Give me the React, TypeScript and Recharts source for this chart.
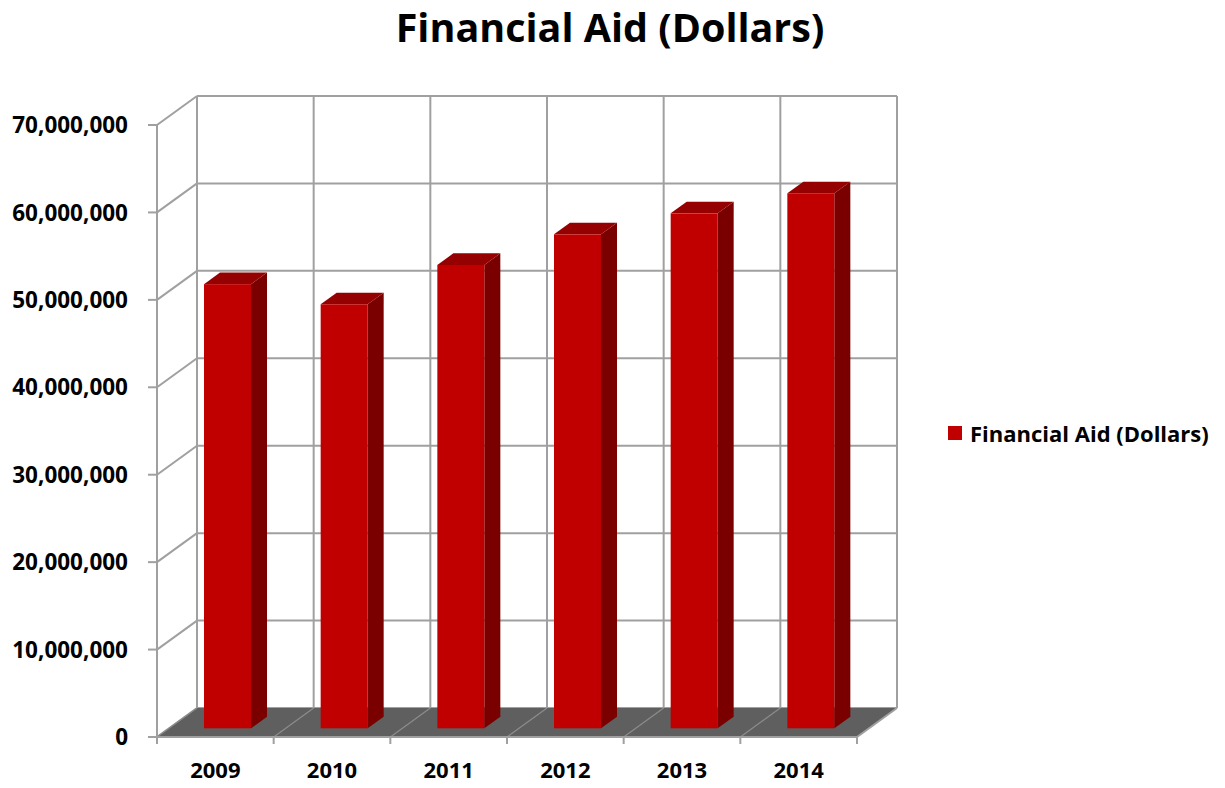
import { BarChart, Bar, XAxis, YAxis, Legend, Customized, CartesianGrid } from 'recharts'

const YEARS = ['2009', '2010', '2011', '2012', '2013', '2014']
const AID = [50800000, 48500000, 53000000, 56500000, 58900000, 61200000]
const Y_TICKS = [0, 10000000, 20000000, 30000000, 40000000, 50000000, 60000000, 70000000]
const TITLE = 'Financial Aid (Dollars)'
const SERIES = 'Financial Aid (Dollars)'

const data = YEARS.map((year, i) => ({ year, aid: AID[i] }))

// front plane of the box + offset of the back wall
const W = 1225
const H = 788
const LEFT = 157
const TOP = 125
const RIGHT = 857
const BOTTOM = 737
const DX = 40
const DY = -29
const BAND = (RIGHT - LEFT) / YEARS.length
const GRID = '#a0a0a0'
const FLOOR = '#5f5f5f'
const FONT = '"Open Sans", sans-serif'

const fmt = (v: number) => v.toLocaleString('en-US')

// side wall diagonal + back wall line for each value tick
function WallLine(p: any) {
  const y = p.y1
  return (
    <g key={`h${p.index}`}>
      <line x1={LEFT} y1={y} x2={LEFT + DX} y2={y + DY} stroke={GRID} strokeWidth={2} />
      <line x1={LEFT + DX} y1={y + DY} x2={RIGHT + DX} y2={y + DY} stroke={GRID} strokeWidth={2} />
    </g>
  )
}

// back wall verticals + floor piece for each category (grid also hands us the plot edges, skip those)
function FloorPiece(p: any) {
  const x = p.x1
  if (x < LEFT + BAND / 4 || x > RIGHT - BAND / 4) return <g key={`v${p.index}`} />
  const l = x - BAND / 2
  const r = x + BAND / 2
  const last = r > RIGHT - 2
  return (
    <g key={`v${p.index}`}>
      <line x1={l + DX} y1={TOP + DY} x2={l + DX} y2={BOTTOM + DY} stroke={GRID} strokeWidth={2} />
      {last && <line x1={r + DX} y1={TOP + DY} x2={r + DX} y2={BOTTOM + DY} stroke={GRID} strokeWidth={2} />}
      <polygon points={`${l},${BOTTOM} ${r},${BOTTOM} ${r + DX},${BOTTOM + DY} ${l + DX},${BOTTOM + DY}`} fill={FLOOR} />
      <line x1={l} y1={BOTTOM} x2={l + DX} y2={BOTTOM + DY} stroke="#8a8a8a" strokeWidth={1.2} />
      {last && <line x1={r} y1={BOTTOM} x2={r + DX} y2={BOTTOM + DY} stroke={GRID} strokeWidth={2} />}
    </g>
  )
}

function YTick({ x, y, payload }: any) {
  return (
    <text x={x} y={y} dy="0.36em" textAnchor="end" fontFamily={FONT} fontWeight="bold" fontSize={22.5} fill="#000">
      {fmt(payload.value)}
    </text>
  )
}

function XTick({ x, y, payload }: any) {
  const l = x - BAND / 2
  const r = x + BAND / 2
  const last = r > RIGHT - 2
  return (
    <g>
      <line x1={l} y1={y} x2={l} y2={y + 7} stroke={GRID} strokeWidth={2} />
      {last && <line x1={r} y1={y} x2={r} y2={y + 7} stroke={GRID} strokeWidth={2} />}
      <text x={x} y={y + 41} textAnchor="middle" fontFamily={FONT} fontWeight="bold" fontSize={22} fill="#000">
        {payload.value}
      </text>
    </g>
  )
}

function Bar3D(props: any) {
  const { x, y, width, height } = props
  const fx = x + DX * 0.3
  const fy = y + DY * 0.3
  const bx = DX * 0.4
  const by = DY * 0.4
  return (
    <g>
      <polygon
        points={`${fx + width},${fy} ${fx + width + bx},${fy + by} ${fx + width + bx},${fy + height + by} ${fx + width},${fy + height}`}
        fill="#7a0000"
      />
      <polygon
        points={`${fx},${fy} ${fx + bx},${fy + by} ${fx + width + bx},${fy + by} ${fx + width},${fy}`}
        fill="#950000"
      />
      <rect x={fx} y={fy} width={width} height={height} fill="#c00000" />
    </g>
  )
}

function LegendBox({ payload }: any) {
  return (
    <div style={{ fontFamily: FONT }}>
      {(payload || []).map((p: any) => (
        <div key={p.value} style={{ display: 'flex', alignItems: 'center', height: 24 }}>
          <span style={{ width: 14, height: 14, background: '#c00000', marginLeft: 8, marginRight: 8 }} />
          <span style={{ fontSize: 22, fontWeight: 'bold', color: '#000', whiteSpace: 'nowrap' }}>{p.value}</span>
        </div>
      ))}
    </div>
  )
}

function Title() {
  return (
    <text x={610} y={42} textAnchor="middle" fontFamily={FONT} fontWeight="bold" fontSize={39.5} fill="#000">
      {TITLE}
    </text>
  )
}

export default function App() {
  return (
    <div style={{ position: 'absolute', left: 0, top: 0, width: W, height: H, background: '#fff' }}>
      <BarChart width={W} height={H} data={data} barCategoryGap="30%"
        margin={{ top: TOP, right: W - RIGHT, bottom: 0, left: 0 }}>
        <CartesianGrid horizontal={WallLine} vertical={FloorPiece} />
        <YAxis
          width={LEFT}
          domain={[0, 70000000]}
          ticks={Y_TICKS}
          interval={0}
          tickSize={9}
          tickMargin={20}
          axisLine={{ stroke: GRID, strokeWidth: 2 }}
          tickLine={{ stroke: GRID, strokeWidth: 2 }}
          tick={<YTick />}
        />
        <XAxis
          dataKey="year"
          height={H - BOTTOM}
          interval={0}
          tickSize={0}
          tickMargin={0}
          tickLine={false}
          axisLine={{ stroke: GRID, strokeWidth: 2 }}
          tick={<XTick />}
        />
        <Bar dataKey="aid" name={SERIES} fill="#c00000" shape={<Bar3D />} isAnimationActive={false} />
        <Legend
          layout="vertical"
          align="center"
          verticalAlign="middle"
          wrapperStyle={{ left: 940, top: 421, width: 285 }}
          content={<LegendBox />}
        />
        <Customized component={<Title />} />
      </BarChart>
    </div>
  )
}
